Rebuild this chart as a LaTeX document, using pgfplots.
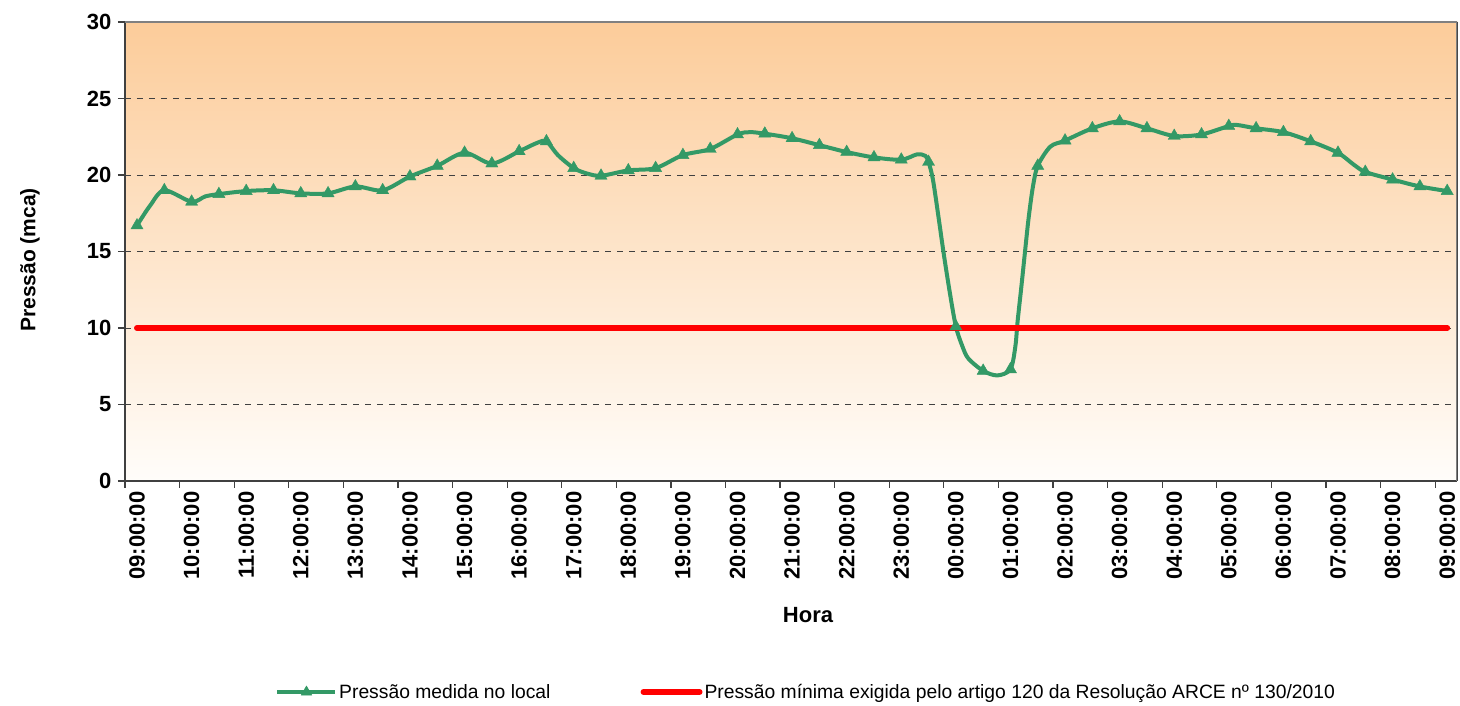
\documentclass[border=0pt]{standalone}
\usepackage{fontspec}
\setmainfont{Liberation Sans}
\usepackage{pgfplots}
\pgfplotsset{compat=1.18}
\definecolor{sgreen}{RGB}{51,153,102}
\definecolor{bgtop}{RGB}{252,204,154}
\definecolor{bgbot}{RGB}{255,253,250}
\definecolor{axisdark}{RGB}{64,64,64}
\begin{document}
\begin{tikzpicture}[x=1pt,y=1pt]
\useasboundingbox (0,0) rectangle (1460,706);
\begin{axis}[
  at={(125pt,225pt)}, anchor=south west,
  scale only axis, width=1332pt, height=459pt,
  xmin=-0.22, xmax=24.18, ymin=0, ymax=30,
  axis background/.style={top color=bgtop, bottom color=bgbot},
  separate axis lines,
  axis line style={draw=axisdark, line width=1.6pt},
  tick align=outside,
  xtick pos=bottom, ytick pos=left,
  major tick length=7pt,
  tick style={draw=axisdark, line width=1.2pt},
  ytick={0,5,...,30},
  ymajorgrids,
  major grid style={draw=black!75, line width=0.9pt, dash pattern=on 6pt off 6pt},
  xtick={0,1,...,24},
  xticklabels={09:00:00,10:00:00,11:00:00,12:00:00,13:00:00,14:00:00,15:00:00,16:00:00,17:00:00,18:00:00,19:00:00,20:00:00,21:00:00,22:00:00,23:00:00,00:00:00,01:00:00,02:00:00,03:00:00,04:00:00,05:00:00,06:00:00,07:00:00,08:00:00,09:00:00},
  xtick style={draw=none},
  extra x ticks={-0.22,0.78,1.78,2.78,3.78,4.78,5.78,6.78,7.78,8.78,9.78,10.78,11.78,12.78,13.78,14.78,15.78,16.78,17.78,18.78,19.78,20.78,21.78,22.78,23.78},
  extra x tick labels={},
  extra x tick style={xtick style={draw=axisdark, line width=1.2pt}, grid=none},
  xticklabel style={font=\bfseries\fontsize{22}{22}\selectfont, rotate=90, anchor=east},
  yticklabel style={font=\bfseries\fontsize{22}{22}\selectfont, xshift=-3pt},
  /pgf/number format/assume math mode=true,
  xlabel={Hora},
  xlabel style={font=\bfseries\fontsize{22}{22}\selectfont, at={(axis description cs:0.5128,-0.292)}, anchor=center},
  ylabel={Pressão (mca)},
  ylabel style={font=\bfseries\fontsize{21}{21}\selectfont, at={(axis description cs:-0.0713,0.4815)}, anchor=center},
  legend columns=2,
  legend style={at={(axis description cs:0.5115,-0.4597)}, anchor=center, draw=none, fill=none,
    font=\fontsize{19.3}{19.3}\selectfont,
    /tikz/every even column/.append style={column sep=88pt}},
]
% measured pressure (line)
\addplot[sgreen, line width=4pt, smooth, forget plot] table {
x y
0 16.7
0.24 18.0
0.5 19.0
1.0 18.25
1.25 18.6
1.5 18.75
2.0 18.95
2.5 19.0
3.0 18.8
3.5 18.8
4.0 19.25
4.5 19.0
5.0 19.9
5.5 20.6
6.0 21.45
6.5 20.75
7.0 21.55
7.33 22.1
7.5 22.2
7.71 21.3
8.0 20.45
8.24 20.1
8.5 19.95
9.0 20.3
9.5 20.45
10.0 21.3
10.5 21.7
11.0 22.65
11.23 22.8
11.5 22.7
12.0 22.4
12.5 21.95
13.0 21.5
13.5 21.15
14.0 21.0
14.29 21.35
14.44 21.25
14.5 20.85
14.58 19.7
14.68 17.3
14.78 14.8
14.89 12.3
15.0 10.1
15.12 8.8
15.23 8.0
15.5 7.2
15.76 6.9
16.0 7.3
16.09 8.8
16.13 10.4
16.2 12.7
16.27 15.1
16.33 17.1
16.41 19.2
16.5 20.6
16.73 21.85
17.0 22.25
17.5 23.05
18.0 23.5
18.5 23.05
19.0 22.55
19.5 22.65
20.0 23.2
20.15 23.27
20.5 23.05
21.0 22.8
21.5 22.2
22.0 21.45
22.28 20.7
22.5 20.2
23.0 19.7
23.5 19.25
24.0 18.95
};
% minimum pressure
\addplot[red, line width=6pt, line cap=round, forget plot] coordinates {(0,10) (24,10)};
% measured pressure (markers, every 30 min)
\addplot[only marks, mark=triangle*, mark size=7pt, color=sgreen,
  legend image code/.code={
    \draw[sgreen, line width=3.5pt] (0pt,0pt) -- (58pt,0pt);
    \draw[sgreen, mark=triangle*, mark size=6pt, mark options={solid, line width=0.5pt}] plot coordinates {(29pt,0pt)};}
] table {
x y
0 16.7
0.5 19.0
1.0 18.25
1.5 18.75
2.0 18.95
2.5 19.0
3.0 18.8
3.5 18.8
4.0 19.25
4.5 19.0
5.0 19.9
5.5 20.6
6.0 21.45
6.5 20.75
7.0 21.55
7.5 22.2
8.0 20.45
8.5 19.95
9.0 20.3
9.5 20.45
10.0 21.3
10.5 21.7
11.0 22.65
11.5 22.7
12.0 22.4
12.5 21.95
13.0 21.5
13.5 21.15
14.0 21.0
14.5 20.85
15.0 10.1
15.5 7.2
16.0 7.3
16.5 20.6
17.0 22.25
17.5 23.05
18.0 23.5
18.5 23.05
19.0 22.55
19.5 22.65
20.0 23.2
20.5 23.05
21.0 22.8
21.5 22.2
22.0 21.45
22.5 20.2
23.0 19.7
23.5 19.25
24.0 18.95
};
\addlegendentry{Pressão medida no local}
\addlegendimage{legend image code/.code={\draw[red, line width=6pt, line cap=round] (2pt,0pt) -- (58pt,0pt);}}
\addlegendentry{Pressão mínima exigida pelo artigo 120 da Resolução ARCE nº 130/2010}
\draw[gray, line width=1.2pt] (rel axis cs:0,1) -- (rel axis cs:1,1) -- (rel axis cs:1,0);
\end{axis}
\end{tikzpicture}
\end{document}
